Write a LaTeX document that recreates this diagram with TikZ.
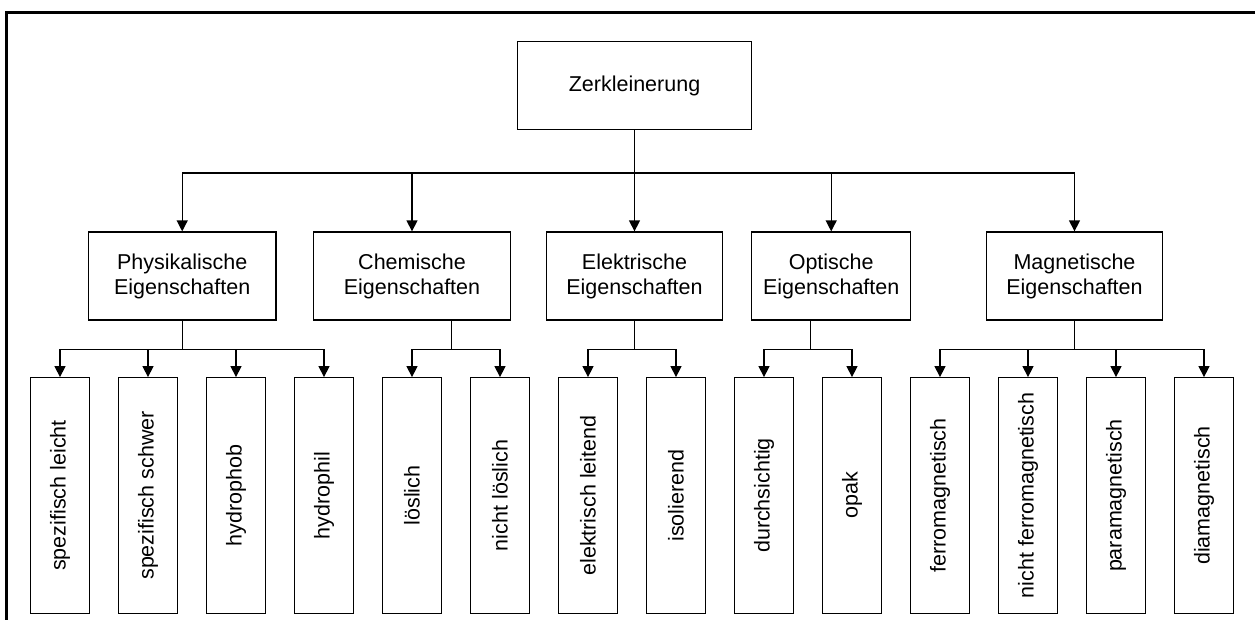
\documentclass[tikz,border=0pt]{standalone}
\usepackage{fontspec}
\setmainfont{Liberation Sans}
\usetikzlibrary{arrows.meta}

\begin{document}
\begin{tikzpicture}[x=1pt,y=1pt,
  every node/.style={font=\fontsize{21.5}{25}\selectfont},
  box/.style={draw=black,line width=1.3pt,rectangle,inner sep=0pt,align=center},
  rootbox/.style={box,minimum width=234.4pt,minimum height=87.6pt},
  midbox/.style={box,minimum height=88pt},
  leafbox/.style={box,minimum width=58.7pt,minimum height=235.5pt},
  link/.style={draw=black,line width=1.3pt},
  arr/.style={link,-{Triangle[width=11pt,length=11pt]}},
]
\path[use as bounding box,clip] (0,0) rectangle (1255,-619);

% outer frame (top and left edges run off the page)
\draw[line width=2.2pt] (6.5,-640) -- (6.5,-12.5) -- (1280,-12.5);

% top level
\node[rootbox] (root) at (634.5,-85.5) {Zerkleinerung};

% property groups
\node[midbox,minimum width=187.7pt] (phys) at (182.2,-276) {Physikalische\\Eigenschaften};
\node[midbox,minimum width=197.4pt] (chem) at (412,-276) {Chemische\\Eigenschaften};
\node[midbox,minimum width=175.6pt] (elek) at (634.5,-276) {Elektrische\\Eigenschaften};
\node[midbox,minimum width=159pt] (opt) at (831.2,-276) {Optische\\Eigenschaften};
\node[midbox,minimum width=175.6pt] (mag) at (1074.5,-276) {Magnetische\\Eigenschaften};

% individual properties
\foreach \i/\t in {1/spezifisch leicht,2/spezifisch schwer,3/hydrophob,4/hydrophil,
                   5/löslich,6/nicht löslich,7/elektrisch leitend,8/isolierend,
                   9/durchsichtig,10/opak,11/ferromagnetisch,12/nicht ferromagnetisch,
                   13/paramagnetisch,14/diamagnetisch}
  \node[leafbox] (l\i) at ({60+88*(\i-1)},-495.5) {\rotatebox{90}{\t}};

% root to groups
\coordinate (bus) at (634.5,-173);
\draw[link] (root.south) -- (bus);
\foreach \m in {phys,chem,elek,opt,mag}
  \draw[arr] (bus) -| (\m.north);

% groups to properties
\coordinate (physdrop) at (phys.south);
\coordinate (chemdrop) at ([xshift=39.7pt]chem.south);
\coordinate (elekdrop) at (elek.south);
\coordinate (optdrop) at ([xshift=-20.5pt]opt.south);
\coordinate (magdrop) at (mag.south);

\foreach \g/\a/\b in {phys/1/4,chem/5/6,elek/7/8,opt/9/10,mag/11/14} {
  \draw[link] (\g drop) -- ++(0,-29) coordinate (\g bus);
  \foreach \k in {\a,...,\b}
    \draw[arr] (\g bus) -| (l\k.north);
}
\end{tikzpicture}
\end{document}
